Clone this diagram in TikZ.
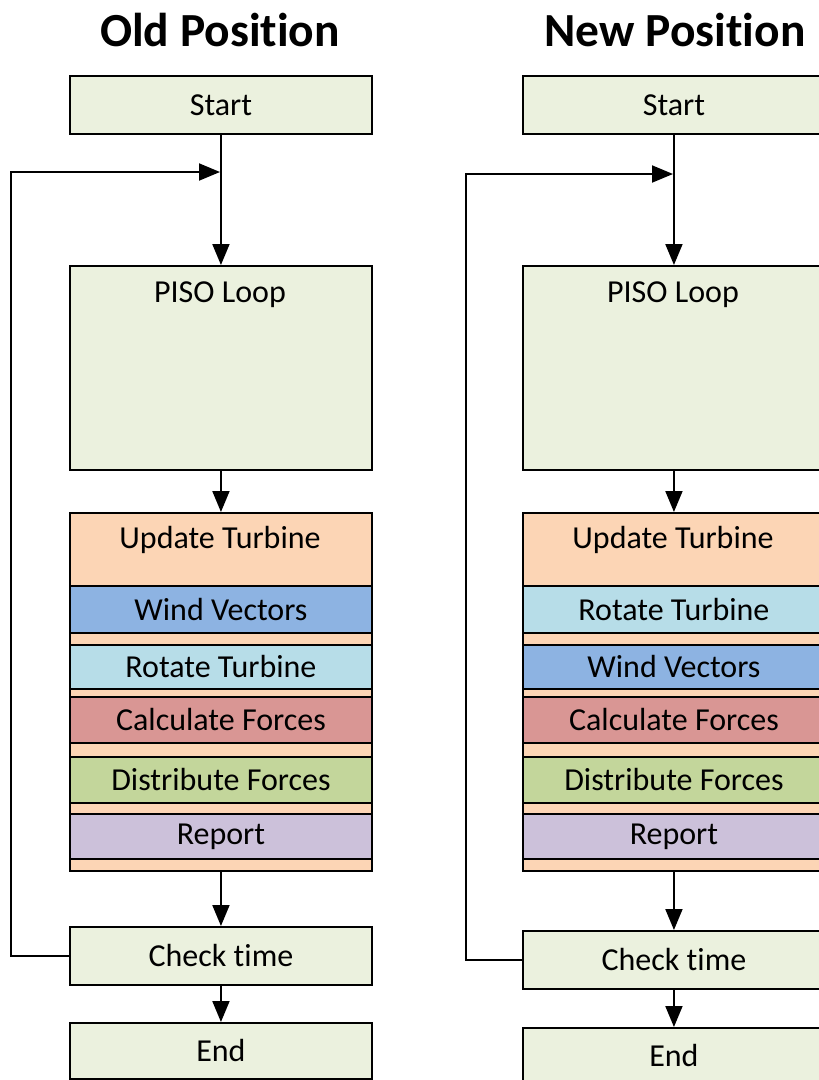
\documentclass[tikz,border=0pt]{standalone}
\usepackage{fontspec}
\setmainfont[RawFeature={-liga}]{Carlito}
\usetikzlibrary{arrows.meta}
\definecolor{boxgreen}{HTML}{EBF1DE}
\definecolor{peach}{HTML}{FCD5B5}
\definecolor{windblue}{HTML}{8DB3E2}
\definecolor{rotblue}{HTML}{B7DDE8}
\definecolor{calcred}{HTML}{D99694}
\definecolor{distgreen}{HTML}{C3D69B}
\definecolor{reppurple}{HTML}{CCC1DA}
\begin{document}
\begin{tikzpicture}[x=1pt,y=-1pt,line width=1.9pt,
  txt/.style={font=\fontsize{32}{38}\selectfont},
  box/.style={draw=black,fill=boxgreen,minimum width=302pt,inner sep=0pt,anchor=north west,txt},
  band/.style={draw=black,minimum width=302pt,inner sep=0pt,anchor=north west,txt},
  arr/.style={-{Triangle[length=21pt,width=17pt]}},
  ttl/.style={font=\fontsize{47.5}{54}\selectfont\bfseries}]
\useasboundingbox (0,0) rectangle (819,1080);
\clip (0,0) rectangle (819,1080);
% titles
\node[ttl] (Ltitle) at (220,30) {Old Position};
\node[ttl] (Rtitle) at (675,30) {New Position};
% ---------- left column ----------
\node[box,minimum height=58pt] (Ls) at (69,75) {Start};
\node[box,minimum height=204pt] (Lp) at (69,265) {};
\node[txt] (Lpt) at (220,295) {PISO Loop};
\node[band,fill=peach,minimum height=358pt] (Lu) at (69,512) {};
\node[txt] (Lut) at (220,540) {Update Turbine};
\node[band,fill=windblue,minimum height=47pt] (Lw) at (69,585) {Wind Vectors};
\node[band,fill=rotblue,minimum height=44pt] (Lr) at (69,644) {Rotate Turbine};
\node[band,fill=calcred,minimum height=46pt] (Lc) at (69,696) {Calculate Forces};
\node[band,fill=distgreen,minimum height=46pt] (Ld) at (69,756) {Distribute Forces};
\node[band,fill=reppurple,minimum height=45pt] (Lre) at (69,813) {Report};
\node[box,minimum height=58pt] (Lk) at (69,926) {Check time};
\node[box,minimum height=56pt] (Le) at (69,1022) {End};
\coordinate (Lj) at (220,172);
\coordinate (Lcorner) at (11,172);
\draw[arr] (Ls) -- (Lp);
\draw[arr] (Lp) -- (Lu);
\draw[arr] (Lu) -- (Lk);
\draw[arr] (Lk) -- (Le);
\draw[arr] (Lk.west) -| (Lcorner) -- (Lj);
% ---------- right column ----------
\node[box,minimum height=58pt] (Rs) at (522,75) {Start};
\node[box,minimum height=204pt] (Rp) at (522,265) {};
\node[txt] (Rpt) at (673,295) {PISO Loop};
\node[band,fill=peach,minimum height=358pt] (Ru) at (522,512) {};
\node[txt] (Rut) at (673,540) {Update Turbine};
\node[band,fill=rotblue,minimum height=47pt] (Rr) at (522,585) {Rotate Turbine};
\node[band,fill=windblue,minimum height=44pt] (Rw) at (522,644) {Wind Vectors};
\node[band,fill=calcred,minimum height=46pt] (Rc) at (522,696) {Calculate Forces};
\node[band,fill=distgreen,minimum height=46pt] (Rd) at (522,756) {Distribute Forces};
\node[band,fill=reppurple,minimum height=45pt] (Rre) at (522,813) {Report};
\node[box,minimum height=58pt] (Rk) at (522,930) {Check time};
\node[box,minimum height=56pt] (Re) at (522,1027) {End};
\coordinate (Rj) at (673,174);
\coordinate (Rcorner) at (466,174);
\draw[arr] (Rs) -- (Rp);
\draw[arr] (Rp) -- (Ru);
\draw[arr] (Ru) -- (Rk);
\draw[arr] (Rk) -- (Re);
\draw[arr] (Rk.west) -| (Rcorner) -- (Rj);
\end{tikzpicture}
\end{document}
